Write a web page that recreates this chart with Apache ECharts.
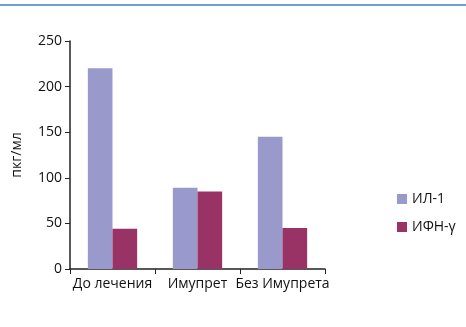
<!DOCTYPE html>
<html>
<head>
<meta charset="utf-8">
<script src="https://cdn.jsdelivr.net/npm/echarts@6/dist/echarts.min.js"></script>
<style>
  html, body { margin: 0; padding: 0; background: #fff; }
  #chart { width: 466px; height: 327px; }
</style>
</head>
<body>
<div id="chart"></div>
<script>
// данные
const categories = ['До лечения', 'Имупрет', 'Без Имупрета']
const il1 = [220, 89, 145]
const ifn = [44, 85, 45]
const yTicks = [0, 50, 100, 150, 200, 250]

const chart = echarts.init(document.getElementById('chart'))

const font = "'Open Sans', 'DejaVu Sans', sans-serif"

chart.setOption({
  animation: false,
  textStyle: { fontFamily: font },
  // синяя линия сверху
  graphic: [
    {
      type: 'rect',
      shape: { x: 0, y: 4, width: 466, height: 2 },
      style: { fill: '#6f9fd4' },
    },
  ],
  legend: {
    orient: 'vertical',
    left: 392,
    top: 187,
    itemWidth: 10,
    itemHeight: 10,
    itemGap: 14,
    icon: 'rect',
    textStyle: { fontSize: 14, color: '#111', fontFamily: font },
    data: ['ИЛ-1', 'ИФН-γ'],
  },
  grid: {
    left: 70,
    right: 141,
    top: 41,
    bottom: 58,
  },
  xAxis: {
    type: 'category',
    data: categories,
    axisLine: { lineStyle: { color: '#222', width: 1.5 } },
    axisTick: { show: true, length: 5, lineStyle: { color: '#222' } },
    axisLabel: { color: '#111', fontSize: 14, margin: 8, interval: 0 },
  },
  yAxis: {
    type: 'value',
    min: yTicks[0],
    max: yTicks[yTicks.length - 1],
    interval: 50,
    name: 'пкг/мл',
    nameLocation: 'middle',
    nameRotate: 90,
    nameGap: 46,
    nameTextStyle: { fontSize: 14, color: '#111' },
    axisLine: { show: true, lineStyle: { color: '#222', width: 1.5 } },
    axisTick: { show: true, length: 5, lineStyle: { color: '#222' } },
    axisLabel: { color: '#111', fontSize: 14, margin: 8 },
    splitLine: { show: false },
  },
  series: [
    {
      name: 'ИЛ-1',
      type: 'bar',
      data: il1,
      barGap: '0%',
      barCategoryGap: '42%',
      itemStyle: { color: '#9999cc' },
    },
    {
      name: 'ИФН-γ',
      type: 'bar',
      data: ifn,
      itemStyle: { color: '#993366' },
    },
  ],
})
</script>
</body>
</html>
